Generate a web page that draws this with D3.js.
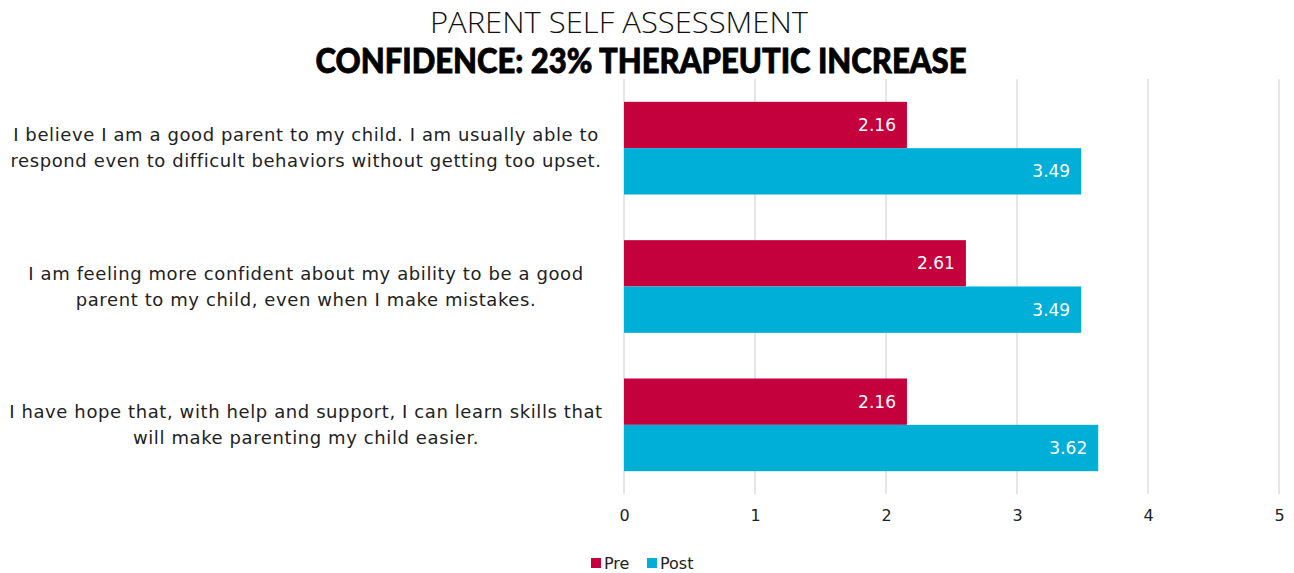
<!DOCTYPE html>
<html><head><meta charset="utf-8">
<script src="https://cdn.jsdelivr.net/npm/d3@7"></script>
<style>body{margin:0;background:#fff}svg{display:block}</style>
</head><body>
<svg id="c" width="1294" height="573"></svg>
<script>
const categories = [
  ["I believe I am a good parent to my child. I am usually able to","respond even to difficult behaviors without getting too upset."],
  ["I am feeling more confident about my ability to be a good","parent to my child, even when I make mistakes."],
  ["I have hope that, with help and support, I can learn skills that","will make parenting my child easier."]
];
const seriesNames = ["Pre","Post"];
const preValues = [2.16, 2.61, 2.16];
const postValues = [3.49, 3.49, 3.62];
const tickValues = [0,1,2,3,4,5];
const titleLine1 = "PARENT SELF ASSESSMENT";
const titleLine2 = "CONFIDENCE: 23% THERAPEUTIC INCREASE";
const colors = ["#C4003D","#00AFD8"];

const svg = d3.select("#c");
const font = "'DejaVu Sans', sans-serif";
const m = {left:624, right:1279, top:79, bottom:494};
const x = d3.scaleLinear().domain([0,5]).range([m.left, m.right]);
const y0 = d3.scaleBand().domain(d3.range(categories.length)).range([m.top, m.bottom]).paddingInner(0.33).paddingOuter(0.165);
const y1 = d3.scaleBand().domain(seriesNames).range([0, y0.bandwidth()]);

// gridlines
svg.append("g").selectAll("line").data(tickValues).join("line")
  .attr("x1", d=>x(d)).attr("x2", d=>x(d)).attr("y1", m.top).attr("y2", m.bottom)
  .attr("stroke", "#d9d9d9").attr("stroke-width", 1.3);

// axis
const ax = svg.append("g").attr("transform", `translate(0,${m.bottom})`)
  .call(d3.axisBottom(x).tickValues(tickValues).tickSize(0).tickPadding(16).tickFormat(d3.format("d")));
ax.select(".domain").remove();
ax.selectAll("text").attr("font-family", font).attr("font-size", 16).attr("fill", "#222");

const data = categories.map((c,i)=>({i, vals:[preValues[i], postValues[i]]}));
const g = svg.append("g").selectAll("g").data(data).join("g")
  .attr("transform", d=>`translate(0,${y0(d.i)})`);
g.selectAll("rect").data(d=>d.vals.map((v,j)=>({v, s:seriesNames[j], j}))).join("rect")
  .attr("x", x(0)).attr("y", d=>y1(d.s)).attr("width", d=>x(d.v)-x(0)).attr("height", y1.bandwidth())
  .attr("fill", d=>colors[d.j]);
g.selectAll("text.val").data(d=>d.vals.map((v,j)=>({v, s:seriesNames[j], j}))).join("text")
  .attr("class","val")
  .attr("x", d=>x(d.v)-11).attr("y", d=>y1(d.s)+y1.bandwidth()/2).attr("dy","0.36em")
  .attr("text-anchor","end").attr("font-family", font).attr("font-size", 17).attr("fill","#fff")
  .text(d=>d.v.toFixed(2));

// category labels
const lab = svg.append("g").selectAll("text").data(categories).join("text")
  .attr("text-anchor","middle").attr("font-family", font).attr("font-size", 18).attr("fill","#222")
  .attr("letter-spacing", 0.6)
  .attr("transform",(d,i)=>`translate(306,${y0(i)+y0.bandwidth()/2})`);
lab.selectAll("tspan").data(d=>d).join("tspan")
  .attr("x",0).attr("y",(d,k)=>k===0?-7:19).text(d=>d);

// titles
svg.append("text").attr("x",619).attr("y",33).attr("text-anchor","middle")
  .attr("font-family","'Open Sans', sans-serif").attr("font-weight",300).attr("font-size",29).attr("fill","#111")
  .attr("textLength",378).attr("lengthAdjust","spacingAndGlyphs")
  .text(titleLine1);
svg.append("text").attr("x",641).attr("y",73).attr("text-anchor","middle")
  .attr("font-family","Lato, sans-serif").attr("font-weight",900).attr("font-size",34).attr("fill","#000")
  .attr("stroke","#000").attr("stroke-width",0.8)
  .attr("textLength",651).attr("lengthAdjust","spacingAndGlyphs")
  .text(titleLine2);

// legend
const leg = svg.append("g").attr("transform","translate(591,563)");
const li = leg.selectAll("g").data(seriesNames).join("g").attr("transform",(d,i)=>`translate(${i*56},0)`);
li.append("rect").attr("x",0).attr("y",-5).attr("width",10).attr("height",10).attr("fill",(d,i)=>colors[i]);
li.append("text").attr("x",13).attr("y",0).attr("dy","0.36em").attr("font-family",font).attr("font-size",16).attr("fill","#222").text(d=>d);
</script>
</body></html>
